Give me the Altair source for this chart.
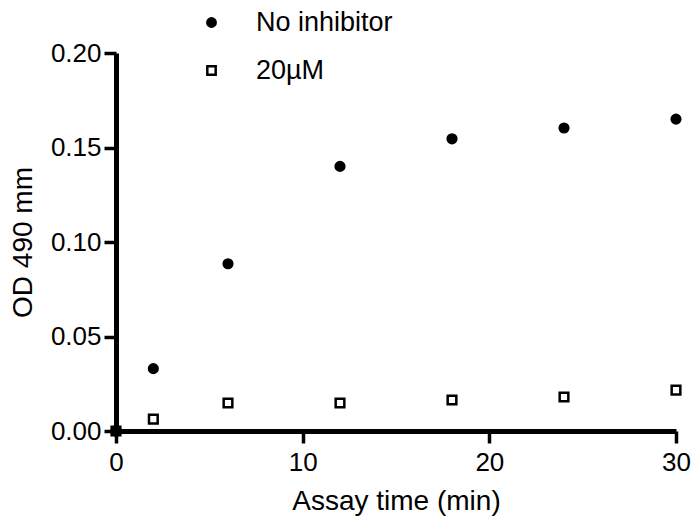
import altair as alt
import pandas as pd

times = [0, 2, 6, 12, 18, 24, 30]
no_inhibitor = [0.0, 0.033, 0.0885, 0.140, 0.1546, 0.1603, 0.165]
inhib_20uM = [0.0, 0.0063, 0.0148, 0.0148, 0.0164, 0.018, 0.0216]
series = ["No inhibitor", "20µM"]
x_ticks = [0, 10, 20, 30]
y_ticks = [0.0, 0.05, 0.10, 0.15, 0.20]

rows = []
for t, v in zip(times, inhib_20uM):
    rows.append({"time": t, "od": v, "series": series[1]})
for t, v in zip(times, no_inhibitor):
    rows.append({"time": t, "od": v, "series": series[0]})
df = pd.DataFrame(rows)

FONT = "Liberation Sans"

leg = alt.Legend(
    title=None, orient="none", legendX=82, legendY=-44,
    labelFontSize=27, labelFont=FONT, labelColor="black",
    labelOffset=31, rowPadding=20, padding=0, symbolStrokeWidth=2.5,
    symbolSize=70,
)

chart = alt.Chart(df).mark_point(
    opacity=1, stroke="black", strokeWidth=2.5, size=75
).encode(
    x=alt.X("time:Q", scale=alt.Scale(domain=[0, 30], nice=False, zero=False),
            axis=alt.Axis(values=x_ticks, title="Assay time (min)", format="d",
                          tickSize=12, labelPadding=6, titlePadding=12, labelFlush=False)),
    y=alt.Y("od:Q", scale=alt.Scale(domain=[0, 0.2], nice=False),
            axis=alt.Axis(values=y_ticks, format=".2f", title="OD 490 mm",
                          tickSize=12, labelPadding=3, titlePadding=13, labelFlush=False)),
    shape=alt.Shape("series:N", scale=alt.Scale(domain=series, range=["circle", "square"]), legend=leg),
    fill=alt.Fill("series:N", scale=alt.Scale(domain=series, range=["black", "white"]), legend=leg),
).properties(
    width=560, height=378,
    autosize=alt.AutoSizeParams(type="none"),
    padding={"left": 108, "top": 45, "right": 16, "bottom": 85},
).configure_view(stroke=None).configure_axis(
    grid=False, domainColor="black", domainWidth=5, tickColor="black", tickWidth=3.5,
    labelFont=FONT, labelFontSize=26, labelColor="black",
    titleFont=FONT, titleFontSize=28, titleFontWeight="normal", titleColor="black",
)

chart.save("out.html", embed_options={"renderer": "svg", "actions": False})
